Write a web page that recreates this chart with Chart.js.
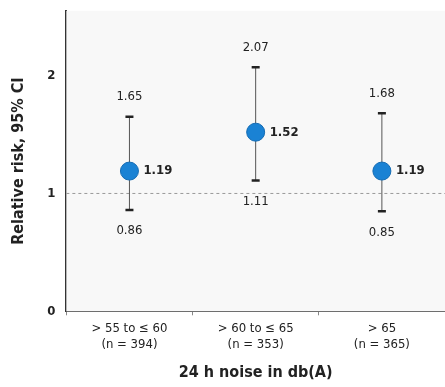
<!DOCTYPE html>
<html>
<head>
<meta charset="utf-8">
<script src="https://cdn.jsdelivr.net/npm/chart.js@4/dist/chart.umd.min.js"></script>
<style>
  html, body { margin: 0; padding: 0; background: #fff; overflow: hidden; }
  #wrap { width: 455px; height: 387px; }
</style>
</head>
<body>
<div id="wrap"><canvas id="riskChart"></canvas></div>
<script>
// data
const categories = [['> 55 to \u2264 60', '(n = 394)'], ['> 60 to \u2264 65', '(n = 353)'], ['> 65', '(n = 365)']];
const riskValues = [1.19, 1.52, 1.19];
const lowerCI = [0.86, 1.11, 0.85];
const upperCI = [1.65, 2.07, 1.68];
const yTicks = [0, 1, 2];

const labelFont = '"DejaVu Sans Condensed", "Liberation Sans Narrow", "Liberation Sans", sans-serif';

// error bars + value labels + reference line
const errorBars = {
    id: 'errorBars',
    beforeDatasetsDraw(chart) {
        const ctx = chart.ctx;
        const x = chart.scales.x;
        const y = chart.scales.y;
        const area = chart.chartArea;
        ctx.save();
        ctx.fillStyle = '#f8f8f8';
        ctx.fillRect(area.left, area.top, area.right - area.left, area.bottom - area.top);
        // dashed line at 1
        ctx.strokeStyle = '#9a9a9a';
        ctx.lineWidth = 1;
        ctx.setLineDash([3, 3]);
        ctx.beginPath();
        ctx.moveTo(area.left, y.getPixelForValue(1));
        ctx.lineTo(area.right, y.getPixelForValue(1));
        ctx.stroke();
        ctx.setLineDash([]);
        riskValues.forEach((v, i) => {
            const px = x.getPixelForValue(i);
            const top = y.getPixelForValue(upperCI[i]);
            const bot = y.getPixelForValue(lowerCI[i]);
            ctx.strokeStyle = '#555';
            ctx.lineWidth = 1;
            ctx.beginPath();
            ctx.moveTo(px, top);
            ctx.lineTo(px, bot);
            ctx.stroke();
            ctx.strokeStyle = '#222';
            ctx.lineWidth = 2.5;
            ctx.beginPath();
            ctx.moveTo(px - 4, top);
            ctx.lineTo(px + 4, top);
            ctx.moveTo(px - 4, bot);
            ctx.lineTo(px + 4, bot);
            ctx.stroke();
        });
        ctx.restore();
    },
    afterDatasetsDraw(chart) {
        const ctx = chart.ctx;
        const x = chart.scales.x;
        const y = chart.scales.y;
        ctx.save();
        ctx.fillStyle = '#222';
        riskValues.forEach((v, i) => {
            const px = x.getPixelForValue(i);
            ctx.font = 'bold 13px ' + labelFont;
            ctx.textAlign = 'left';
            ctx.textBaseline = 'middle';
            ctx.fillText(v.toFixed(2), px + 14, y.getPixelForValue(v));
            ctx.font = '13px ' + labelFont;
            ctx.textAlign = 'center';
            ctx.textBaseline = 'middle';
            ctx.fillText(upperCI[i].toFixed(2), px, y.getPixelForValue(upperCI[i]) - 20);
            ctx.fillText(lowerCI[i].toFixed(2), px, y.getPixelForValue(lowerCI[i]) + 21);
        });
        ctx.restore();
    }
};

new Chart(document.getElementById('riskChart'), {
    type: 'line',
    data: {
        labels: categories,
        datasets: [{
            label: 'Relative risk',
            data: riskValues,
            showLine: false,
            pointRadius: 9,
            pointHoverRadius: 9,
            pointBackgroundColor: '#1a82d4',
            pointBorderColor: '#156cb4',
            pointBorderWidth: 1
        }]
    },
    options: {
        responsive: true,
        maintainAspectRatio: false,
        animation: false,
        layout: { padding: { top: 7, right: 0, bottom: 5, left: 9 } },
        plugins: {
            legend: { display: false },
            tooltip: { enabled: false }
        },
        scales: {
            x: {
                offset: true,
                grid: { offset: true, drawOnChartArea: false, tickLength: 4, color: '#888' },
                border: { color: '#333', width: 2 },
                ticks: {
                    color: '#222',
                    font: { family: labelFont, size: 13, lineHeight: 1.25 },
                    padding: 5
                },
                title: {
                    display: true,
                    text: '24 h noise in db(A)',
                    color: '#222',
                    font: { family: labelFont, size: 16, weight: 'bold' },
                    padding: { top: 5, bottom: 0 }
                }
            },
            y: {
                min: 0,
                max: 2.55,
                afterBuildTicks: axis => { axis.ticks = yTicks.map(v => ({ value: v })); },
                grid: { display: false },
                border: { color: '#333', width: 2 },
                ticks: {
                    color: '#222',
                    font: { family: labelFont, size: 13, weight: 'bold' },
                    padding: 3
                },
                title: {
                    display: true,
                    text: 'Relative risk, 95% CI',
                    color: '#222',
                    font: { family: labelFont, size: 16, weight: 'bold' },
                    padding: { top: 0, bottom: 16 }
                }
            }
        }
    },
    plugins: [errorBars]
});
</script>
</body>
</html>
